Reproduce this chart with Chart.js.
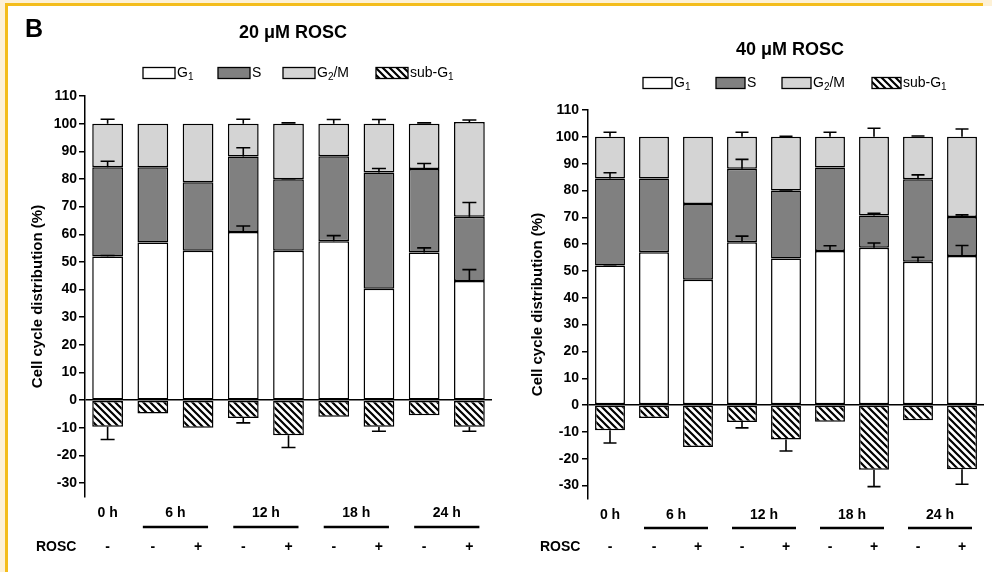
<!DOCTYPE html>
<html><head><meta charset="utf-8">
<script src="https://cdn.jsdelivr.net/npm/chart.js@4.4.1/dist/chart.umd.min.js"></script>
<style>
html,body{margin:0;padding:0;background:#fff;width:992px;height:572px;overflow:hidden;position:relative}
.cream{position:absolute;background:#fdf1d6}
.gold{position:absolute;background:#f4bd1c}
canvas{position:absolute;top:0}
#c1{left:0}
#c2{left:496px}
</style></head>
<body>
<div class="cream" style="left:0;top:0;width:992px;height:3px"></div>
<div class="cream" style="left:0;top:0;width:5px;height:572px"></div>
<div class="cream" style="left:983px;top:0;width:9px;height:6px"></div>
<div class="gold" style="left:5px;top:3px;width:978px;height:3px"></div>
<div class="gold" style="left:5px;top:3px;width:3px;height:569px"></div>
<canvas id="c1" width="496" height="572"></canvas>
<canvas id="c2" width="496" height="572"></canvas>
<script>
// ---------- data ----------
const categories = ['0 h -', '6 h -', '6 h +', '12 h -', '12 h +', '18 h -', '18 h +', '24 h -', '24 h +'];
const timePoints = ['0 h', '6 h', '12 h', '18 h', '24 h'];
const timeSpans = [[0, 0], [1, 2], [3, 4], [5, 6], [7, 8]];
const roscSigns = ['-', '-', '+', '-', '+', '-', '+', '-', '+'];
const seriesNames = ['G₁', 'S', 'G₂/M', 'sub-G₁'];
const panelTitles = ['20 μM ROSC', '40 μM ROSC'];
const panelLetter = 'B';
const yAxisTitle = 'Cell cycle distribution (%)';
const rowLabel = 'ROSC';

// 20 uM ROSC
const g1_20   = [52.0, 57.0, 54.0, 60.8, 54.0, 57.5, 40.3, 53.4, 43.1];
const s_20    = [32.2, 27.2, 24.8, 27.3, 25.9, 30.7, 42.0, 30.2, 23.2];
const g2m_20  = [15.8, 15.8, 21.2, 11.9, 20.1, 11.8, 17.7, 16.4, 34.3];
const sub_20  = [-9.6, -4.8, -10.0, -6.4, -12.7, -6.0, -9.6, -5.4, -9.6];
const g1Err_20  = [0.3, 0, 0, 2.2, 0, 2.0, 0, 1.7, 4.1];
const sErr_20   = [2.2, 0, 0, 3.2, 0.2, 0, 1.5, 2.0, 5.2];
const g2mErr_20 = [1.6, 0, 0, 1.6, 0.3, 1.5, 1.5, 0.3, 0.7];
const subErr_20 = [4.6, 0, 0, 1.8, 4.4, 0, 1.6, 0, 1.6];

// 40 uM ROSC
const g1_40   = [52.0, 57.0, 46.7, 60.7, 54.6, 57.4, 58.7, 53.4, 55.6];
const s_40    = [32.5, 27.5, 28.3, 27.4, 25.4, 31.2, 12.0, 30.8, 14.5];
const g2m_40  = [15.5, 15.5, 25.0, 11.9, 20.0, 11.4, 29.3, 15.8, 29.9];
const sub_40  = [-9.4, -4.8, -15.6, -6.3, -12.8, -6.2, -24.1, -5.6, -23.9];
const g1Err_40  = [0.3, 0, 0, 2.3, 0, 2.0, 1.7, 1.7, 3.9];
const sErr_40   = [2.1, 0, 0, 3.5, 0.2, 0, 0.8, 1.6, 0.8];
const g2mErr_40 = [1.7, 0, 0, 1.7, 0.2, 1.7, 3.2, 0.3, 2.9];
const subErr_40 = [4.7, 0, 0, 2.2, 4.3, 0, 6.3, 0, 5.6];

// ---------- drawing ----------
const F = "'Liberation Sans', Arial, Helvetica, sans-serif";
const SUB = {'₁': '1', '₂': '2'};

function makeHatch(bg) {
  const s = 7, c = document.createElement('canvas');
  c.width = s; c.height = s;
  const g = c.getContext('2d');
  g.fillStyle = bg; g.fillRect(0, 0, s, s);
  g.strokeStyle = '#000'; g.lineWidth = 2.2;
  g.beginPath();
  for (const k of [-s, 0, s]) { g.moveTo(-2, k - 2); g.lineTo(s + 2, k + s + 2); }
  g.stroke();
  return g.createPattern(c, 'repeat');
}

function richText(ctx, str, x, y, size, weight) {
  let cx = x, buf = '';
  const flush = () => {
    if (!buf) return;
    ctx.font = `${weight} ${size}px ${F}`;
    ctx.fillText(buf, cx, y); cx += ctx.measureText(buf).width; buf = '';
  };
  for (const ch of str) {
    if (SUB[ch]) {
      flush();
      const ss = Math.round(size * 0.68);
      ctx.font = `${weight} ${ss}px ${F}`;
      ctx.fillText(SUB[ch], cx, y + size * 0.3);
      cx += ctx.measureText(SUB[ch]).width;
    } else buf += ch;
  }
  flush();
  return cx;
}

const errorBars = {
  id: 'errorBars',
  afterDatasetsDraw(chart, args, o) {
    const ctx = chart.ctx, ys = chart.scales.y;
    const ds = chart.data.datasets;
    ctx.save();
    ctx.strokeStyle = '#000'; ctx.lineWidth = 1.6;
    for (let i = 0; i < ds.length; i++) {
      const meta = chart.getDatasetMeta(i);
      const errs = o.errors[i];
      for (let j = 0; j < ds[i].data.length; j++) {
        const e = errs[j];
        if (!e) continue;
        let end;
        if (ds[i].data[j] < 0) end = ds[i].data[j];
        else { end = 0; for (let k = 0; k <= i; k++) if (ds[k].data[j] > 0) end += ds[k].data[j]; }
        const tipVal = ds[i].data[j] < 0 ? end - e : end + e;
        const x = meta.data[j].x, y0 = ys.getPixelForValue(end), y1 = ys.getPixelForValue(tipVal);
        ctx.beginPath();
        ctx.moveTo(x, y0); ctx.lineTo(x, y1);
        ctx.moveTo(x - o.cap / 2, y1); ctx.lineTo(x + o.cap / 2, y1);
        ctx.stroke();
      }
    }
    ctx.restore();
  }
};

const annot = {
  id: 'annot',
  afterDraw(chart, args, o) {
    const ctx = chart.ctx, xs = chart.scales.x;
    const ds = chart.data.datasets;
    ctx.save();
    ctx.fillStyle = '#000'; ctx.strokeStyle = '#000';
    if (o.panel) {
      ctx.font = `bold 25px ${F}`; ctx.textAlign = 'left'; ctx.textBaseline = 'alphabetic';
      ctx.fillText(o.panel, o.panelX, o.panelY);
    }
    ctx.font = `bold 18px ${F}`; ctx.textAlign = 'center'; ctx.textBaseline = 'middle';
    ctx.fillText(o.title, o.titleX, o.titleY);
    // legend
    ctx.textAlign = 'left';
    for (let i = 0; i < ds.length; i++) {
      const bx = o.legendX[i], by = o.legendY - 5.5;
      ctx.fillStyle = ds[i].backgroundColor;
      ctx.fillRect(bx, by, o.boxW, 11);
      ctx.lineWidth = 1.3; ctx.strokeRect(bx, by, o.boxW, 11);
      ctx.fillStyle = '#000';
      richText(ctx, ds[i].label, bx + o.boxW + 2, o.legendY, 14, 'normal');
    }
    // time groups
    ctx.textAlign = 'center';
    ctx.font = `bold 14px ${F}`;
    for (let g = 0; g < o.groups.length; g++) {
      const [a, b] = o.spans[g];
      const xa = xs.getPixelForValue(a), xb = xs.getPixelForValue(b);
      ctx.fillText(o.groups[g], (xa + xb) / 2, o.groupY);
      if (b > a) {
        ctx.lineWidth = 2.6;
        ctx.beginPath(); ctx.moveTo(xa - 10, o.lineY); ctx.lineTo(xb + 10, o.lineY); ctx.stroke();
      }
    }
    for (let j = 0; j < o.signs.length; j++) {
      ctx.fillText(o.signs[j], xs.getPixelForValue(j), o.signY);
    }
    ctx.textAlign = 'left';
    ctx.fillText(o.rowLabel, o.rowX, o.signY);
    ctx.restore();
  }
};

function makeChart(id, d, L) {
  const hatch = makeHatch('#fff');
  return new Chart(document.getElementById(id), {
    type: 'bar',
    data: {
      labels: categories,
      datasets: [
        {label: seriesNames[0], data: d.g1, backgroundColor: '#ffffff'},
        {label: seriesNames[1], data: d.s, backgroundColor: '#808080'},
        {label: seriesNames[2], data: d.g2m, backgroundColor: '#d4d4d4'},
        {label: seriesNames[3], data: d.sub, backgroundColor: hatch}
      ]
    },
    options: {
      responsive: false, animation: false,
      layout: {padding: {left: 0, right: L.padRight, top: L.top, bottom: L.padBottom}},
      datasets: {bar: {borderColor: '#000', borderWidth: 1.5, borderSkipped: false,
        categoryPercentage: 1, barPercentage: 0.68, stack: 'all'}},
      scales: {
        x: {display: false, stacked: true},
        y: {
          stacked: true, min: -35, max: 110,
          afterFit(s) { s.width = L.axisX; },
          afterBuildTicks(s) { s.ticks = s.ticks.filter(t => Math.abs(t.value % 10) < 1e-9); },
          ticks: {stepSize: 10, includeBounds: false, color: '#000', padding: L.tickPad,
            font: {family: F, size: 14, weight: 'bold'}},
          grid: {
            color: c => (c.tick && c.tick.value === 0) ? '#000' : 'rgba(0,0,0,0)',
            lineWidth: 1.5, tickColor: '#000', tickLength: 6, tickWidth: 1.5
          },
          border: {display: true, color: '#000', width: 1.5},
          title: {display: true, text: yAxisTitle, color: '#000',
            font: {family: F, size: 15, weight: 'bold'}, padding: {top: L.titlePad, bottom: 0}}
        }
      },
      plugins: {
        legend: {display: false}, tooltip: {enabled: false},
        errorBars: {errors: [d.g1Err, d.sErr, d.g2mErr, d.subErr], cap: L.cap},
        annot: {
          panel: L.panel, panelX: 25, panelY: 37,
          title: L.title, titleX: L.titleX, titleY: L.titleY,
          legendX: L.legendX, legendY: L.legendY, boxW: L.boxW,
          groups: timePoints, spans: timeSpans, signs: roscSigns, rowLabel: rowLabel,
          groupY: L.groupY, lineY: L.lineY, signY: L.signY, rowX: L.rowX
        }
      }
    },
    plugins: [errorBars, annot]
  });
}

makeChart('c1',
  {g1: g1_20, s: s_20, g2m: g2m_20, sub: sub_20, g1Err: g1Err_20, sErr: sErr_20, g2mErr: g2mErr_20, subErr: subErr_20},
  {padRight: 4, top: 96, padBottom: 75, axisX: 85, tickPad: 2, titlePad: 29, cap: 14,
   panel: panelLetter, title: panelTitles[0], titleX: 293, titleY: 33,
   legendX: [143, 218, 283, 376], legendY: 73, boxW: 32,
   groupY: 513, lineY: 527, signY: 547, rowX: 36});

makeChart('c2',
  {g1: g1_40, s: s_40, g2m: g2m_40, sub: sub_40, g1Err: g1Err_40, sErr: sErr_40, g2mErr: g2mErr_40, subErr: subErr_40},
  {padRight: 8, top: 110, padBottom: 73, axisX: 92, tickPad: 3, titlePad: 33, cap: 13,
   panel: null, title: panelTitles[1], titleX: 294, titleY: 50,
   legendX: [147, 220, 286, 376], legendY: 83, boxW: 29,
   groupY: 515, lineY: 528, signY: 547, rowX: 44});
</script>
</body></html>
